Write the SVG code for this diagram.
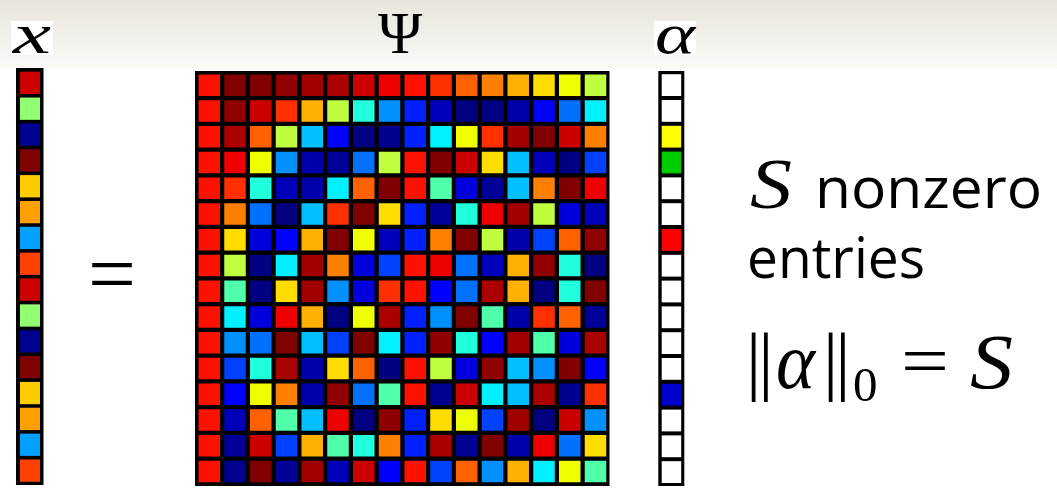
<svg xmlns="http://www.w3.org/2000/svg" width="1057" height="491" viewBox="0 0 1057 491">
<defs>
<linearGradient id="band" x1="0" y1="0" x2="0" y2="1">
<stop offset="0" stop-color="#E9E5DC"/>
<stop offset="1" stop-color="#FBFAF7"/>
</linearGradient>
</defs>
<style>
.m rect{width:21.5px;height:21.5px}
.bg{fill:#000}
.a{fill:#800000}.b{fill:#900000}.c{fill:#A00000}.d{fill:#AA0000}.e{fill:#CC0000}.f{fill:#EE0000}
.g{fill:#FF1100}.h{fill:#FF3000}.i{fill:#FF6000}.j{fill:#FF8000}.k{fill:#FFB000}.l{fill:#FFDD00}
.m2{fill:#F0FF00}.n{fill:#C0FF40}.o{fill:#50FFAA}.p{fill:#20FFDD}.q{fill:#00F0FF}.r{fill:#00C0FF}
.s{fill:#0090FF}.t{fill:#0070FF}.u{fill:#0040FF}.v{fill:#0020FF}.w{fill:#0000FF}.y{fill:#0000DD}
.z{fill:#0000BB}.A{fill:#0000AA}.B{fill:#000099}.C{fill:#000090}.D{fill:#000080}
.serif{font-family:"Liberation Serif","DejaVu Serif",serif;fill:#000}
.it{font-style:italic}
.sans{font-family:"Open Sans","DejaVu Sans",sans-serif;fill:#000}
</style>
<rect x="0" y="0" width="1057" height="491" fill="#FFFFFF"/>
<rect x="0" y="0" width="1057" height="69" fill="url(#band)"/>

<g id="label-x">
<rect x="11" y="21" width="42" height="34" fill="#FFFFFF"/>
<text class="serif it" x="13" y="53" font-size="58" textLength="38" lengthAdjust="spacingAndGlyphs">x</text>
</g>
<g id="label-psi">
<text class="serif" x="378" y="53" font-size="60">Ψ</text>
</g>
<g id="label-alpha">
<rect x="654" y="21" width="42" height="34" fill="#FFFFFF"/>
<text class="serif it" x="655" y="53" font-size="58" textLength="40" lengthAdjust="spacingAndGlyphs">α</text>
</g>

<g id="x-vector">
<rect class="bg" x="16" y="68" width="27.5" height="417"/>
<g>
<rect class="e" x="20" y="71.7" width="20" height="22.3"/>
<rect fill="#90FF70" x="20" y="97.55" width="20" height="22.3"/>
<rect fill="#000090" x="20" y="123.4" width="20" height="22.3"/>
<rect fill="#800000" x="20" y="149.25" width="20" height="22.3"/>
<rect fill="#FFCC00" x="20" y="175.1" width="20" height="22.3"/>
<rect fill="#FFA000" x="20" y="200.95" width="20" height="22.3"/>
<rect fill="#00A0FF" x="20" y="226.8" width="20" height="22.3"/>
<rect fill="#FF4000" x="20" y="252.65" width="20" height="22.3"/>
<rect class="e" x="20" y="278.5" width="20" height="22.3"/>
<rect fill="#90FF70" x="20" y="304.35" width="20" height="22.3"/>
<rect fill="#000090" x="20" y="330.2" width="20" height="22.3"/>
<rect fill="#800000" x="20" y="356.05" width="20" height="22.3"/>
<rect fill="#FFCC00" x="20" y="381.9" width="20" height="22.3"/>
<rect fill="#FFA000" x="20" y="407.75" width="20" height="22.3"/>
<rect fill="#00A0FF" x="20" y="433.6" width="20" height="22.3"/>
<rect fill="#FF4000" x="20" y="459.45" width="20" height="22.3"/>
</g>
</g>

<g id="equals">
<text class="serif" x="88" y="303" font-size="86" textLength="48" lengthAdjust="spacingAndGlyphs">=</text>
</g>

<g id="psi-matrix" class="m">
<rect class="bg" x="195" y="71" width="414.5" height="415" style="width:414.5px;height:415px"/>
<g transform="translate(0,74.5)">
<rect class="g" x="198.5" y="0"/><rect class="a" x="224.25" y="0"/><rect class="a" x="250" y="0"/><rect class="b" x="275.75" y="0"/><rect class="c" x="301.5" y="0"/><rect class="d" x="327.25" y="0"/><rect class="e" x="353" y="0"/><rect class="f" x="378.75" y="0"/><rect class="g" x="404.5" y="0"/><rect class="h" x="430.25" y="0"/><rect class="i" x="456" y="0"/><rect class="j" x="481.75" y="0"/><rect class="k" x="507.5" y="0"/><rect class="l" x="533.25" y="0"/><rect class="m2" x="559" y="0"/><rect class="n" x="584.75" y="0"/>
</g>
<g transform="translate(0,100.25)">
<rect class="g" x="198.5" y="0"/><rect class="b" x="224.25" y="0"/><rect class="e" x="250" y="0"/><rect class="h" x="275.75" y="0"/><rect class="k" x="301.5" y="0"/><rect class="n" x="327.25" y="0"/><rect class="p" x="353" y="0"/><rect class="s" x="378.75" y="0"/><rect class="v" x="404.5" y="0"/><rect class="z" x="430.25" y="0"/><rect class="D" x="456" y="0"/><rect class="D" x="481.75" y="0"/><rect class="A" x="507.5" y="0"/><rect class="w" x="533.25" y="0"/><rect class="t" x="559" y="0"/><rect class="q" x="584.75" y="0"/>
</g>
<g transform="translate(0,126)">
<rect class="g" x="198.5" y="0"/><rect class="d" x="224.25" y="0"/><rect class="i" x="250" y="0"/><rect class="n" x="275.75" y="0"/><rect class="r" x="301.5" y="0"/><rect class="w" x="327.25" y="0"/><rect class="D" x="353" y="0"/><rect class="C" x="378.75" y="0"/><rect class="v" x="404.5" y="0"/><rect class="q" x="430.25" y="0"/><rect class="m2" x="456" y="0"/><rect class="h" x="481.75" y="0"/><rect class="c" x="507.5" y="0"/><rect class="a" x="533.25" y="0"/><rect class="e" x="559" y="0"/><rect class="j" x="584.75" y="0"/>
</g>
<g transform="translate(0,151.75)">
<rect class="g" x="198.5" y="0"/><rect class="f" x="224.25" y="0"/><rect class="m2" x="250" y="0"/><rect class="s" x="275.75" y="0"/><rect class="A" x="301.5" y="0"/><rect class="B" x="327.25" y="0"/><rect class="t" x="353" y="0"/><rect class="n" x="378.75" y="0"/><rect class="g" x="404.5" y="0"/><rect class="a" x="430.25" y="0"/><rect class="e" x="456" y="0"/><rect class="l" x="481.75" y="0"/><rect class="r" x="507.5" y="0"/><rect class="z" x="533.25" y="0"/><rect class="D" x="559" y="0"/><rect class="u" x="584.75" y="0"/>
</g>
<g transform="translate(0,177.5)">
<rect class="g" x="198.5" y="0"/><rect class="h" x="224.25" y="0"/><rect class="p" x="250" y="0"/><rect class="z" x="275.75" y="0"/><rect class="A" x="301.5" y="0"/><rect class="q" x="327.25" y="0"/><rect class="i" x="353" y="0"/><rect class="a" x="378.75" y="0"/><rect class="g" x="404.5" y="0"/><rect class="o" x="430.25" y="0"/><rect class="y" x="456" y="0"/><rect class="B" x="481.75" y="0"/><rect class="r" x="507.5" y="0"/><rect class="j" x="533.25" y="0"/><rect class="a" x="559" y="0"/><rect class="f" x="584.75" y="0"/>
</g>
<g transform="translate(0,203.25)">
<rect class="g" x="198.5" y="0"/><rect class="j" x="224.25" y="0"/><rect class="t" x="250" y="0"/><rect class="D" x="275.75" y="0"/><rect class="r" x="301.5" y="0"/><rect class="h" x="327.25" y="0"/><rect class="a" x="353" y="0"/><rect class="l" x="378.75" y="0"/><rect class="v" x="404.5" y="0"/><rect class="B" x="430.25" y="0"/><rect class="p" x="456" y="0"/><rect class="f" x="481.75" y="0"/><rect class="c" x="507.5" y="0"/><rect class="n" x="533.25" y="0"/><rect class="y" x="559" y="0"/><rect class="z" x="584.75" y="0"/>
</g>
<g transform="translate(0,229)">
<rect class="g" x="198.5" y="0"/><rect class="l" x="224.25" y="0"/><rect class="y" x="250" y="0"/><rect class="w" x="275.75" y="0"/><rect class="k" x="301.5" y="0"/><rect class="a" x="327.25" y="0"/><rect class="m2" x="353" y="0"/><rect class="z" x="378.75" y="0"/><rect class="v" x="404.5" y="0"/><rect class="j" x="430.25" y="0"/><rect class="a" x="456" y="0"/><rect class="n" x="481.75" y="0"/><rect class="A" x="507.5" y="0"/><rect class="u" x="533.25" y="0"/><rect class="i" x="559" y="0"/><rect class="b" x="584.75" y="0"/>
</g>
<g transform="translate(0,254.75)">
<rect class="g" x="198.5" y="0"/><rect class="n" x="224.25" y="0"/><rect class="D" x="250" y="0"/><rect class="q" x="275.75" y="0"/><rect class="c" x="301.5" y="0"/><rect class="j" x="327.25" y="0"/><rect class="y" x="353" y="0"/><rect class="u" x="378.75" y="0"/><rect class="g" x="404.5" y="0"/><rect class="f" x="430.25" y="0"/><rect class="t" x="456" y="0"/><rect class="z" x="481.75" y="0"/><rect class="k" x="507.5" y="0"/><rect class="b" x="533.25" y="0"/><rect class="p" x="559" y="0"/><rect class="D" x="584.75" y="0"/>
</g>
<g transform="translate(0,280.5)">
<rect class="g" x="198.5" y="0"/><rect class="o" x="224.25" y="0"/><rect class="D" x="250" y="0"/><rect class="l" x="275.75" y="0"/><rect class="c" x="301.5" y="0"/><rect class="s" x="327.25" y="0"/><rect class="y" x="353" y="0"/><rect class="h" x="378.75" y="0"/><rect class="g" x="404.5" y="0"/><rect class="w" x="430.25" y="0"/><rect class="t" x="456" y="0"/><rect class="d" x="481.75" y="0"/><rect class="k" x="507.5" y="0"/><rect class="D" x="533.25" y="0"/><rect class="p" x="559" y="0"/><rect class="a" x="584.75" y="0"/>
</g>
<g transform="translate(0,306.25)">
<rect class="g" x="198.5" y="0"/><rect class="q" x="224.25" y="0"/><rect class="y" x="250" y="0"/><rect class="f" x="275.75" y="0"/><rect class="k" x="301.5" y="0"/><rect class="D" x="327.25" y="0"/><rect class="m2" x="353" y="0"/><rect class="d" x="378.75" y="0"/><rect class="v" x="404.5" y="0"/><rect class="s" x="430.25" y="0"/><rect class="a" x="456" y="0"/><rect class="o" x="481.75" y="0"/><rect class="A" x="507.5" y="0"/><rect class="h" x="533.25" y="0"/><rect class="i" x="559" y="0"/><rect class="B" x="584.75" y="0"/>
</g>
<g transform="translate(0,332)">
<rect class="g" x="198.5" y="0"/><rect class="s" x="224.25" y="0"/><rect class="t" x="250" y="0"/><rect class="a" x="275.75" y="0"/><rect class="r" x="301.5" y="0"/><rect class="u" x="327.25" y="0"/><rect class="a" x="353" y="0"/><rect class="q" x="378.75" y="0"/><rect class="v" x="404.5" y="0"/><rect class="b" x="430.25" y="0"/><rect class="p" x="456" y="0"/><rect class="w" x="481.75" y="0"/><rect class="c" x="507.5" y="0"/><rect class="o" x="533.25" y="0"/><rect class="y" x="559" y="0"/><rect class="d" x="584.75" y="0"/>
</g>
<g transform="translate(0,357.75)">
<rect class="g" x="198.5" y="0"/><rect class="u" x="224.25" y="0"/><rect class="p" x="250" y="0"/><rect class="d" x="275.75" y="0"/><rect class="A" x="301.5" y="0"/><rect class="l" x="327.25" y="0"/><rect class="i" x="353" y="0"/><rect class="D" x="378.75" y="0"/><rect class="g" x="404.5" y="0"/><rect class="n" x="430.25" y="0"/><rect class="y" x="456" y="0"/><rect class="b" x="481.75" y="0"/><rect class="r" x="507.5" y="0"/><rect class="s" x="533.25" y="0"/><rect class="a" x="559" y="0"/><rect class="w" x="584.75" y="0"/>
</g>
<g transform="translate(0,383.5)">
<rect class="g" x="198.5" y="0"/><rect class="w" x="224.25" y="0"/><rect class="m2" x="250" y="0"/><rect class="j" x="275.75" y="0"/><rect class="A" x="301.5" y="0"/><rect class="b" x="327.25" y="0"/><rect class="t" x="353" y="0"/><rect class="o" x="378.75" y="0"/><rect class="g" x="404.5" y="0"/><rect class="C" x="430.25" y="0"/><rect class="e" x="456" y="0"/><rect class="q" x="481.75" y="0"/><rect class="r" x="507.5" y="0"/><rect class="d" x="533.25" y="0"/><rect class="C" x="559" y="0"/><rect class="h" x="584.75" y="0"/>
</g>
<g transform="translate(0,409.25)">
<rect class="g" x="198.5" y="0"/><rect class="z" x="224.25" y="0"/><rect class="i" x="250" y="0"/><rect class="o" x="275.75" y="0"/><rect class="r" x="301.5" y="0"/><rect class="f" x="327.25" y="0"/><rect class="D" x="353" y="0"/><rect class="b" x="378.75" y="0"/><rect class="v" x="404.5" y="0"/><rect class="l" x="430.25" y="0"/><rect class="m2" x="456" y="0"/><rect class="u" x="481.75" y="0"/><rect class="c" x="507.5" y="0"/><rect class="D" x="533.25" y="0"/><rect class="e" x="559" y="0"/><rect class="s" x="584.75" y="0"/>
</g>
<g transform="translate(0,435)">
<rect class="g" x="198.5" y="0"/><rect class="B" x="224.25" y="0"/><rect class="e" x="250" y="0"/><rect class="u" x="275.75" y="0"/><rect class="k" x="301.5" y="0"/><rect class="o" x="327.25" y="0"/><rect class="p" x="353" y="0"/><rect class="j" x="378.75" y="0"/><rect class="v" x="404.5" y="0"/><rect class="d" x="430.25" y="0"/><rect class="C" x="456" y="0"/><rect class="a" x="481.75" y="0"/><rect class="A" x="507.5" y="0"/><rect class="f" x="533.25" y="0"/><rect class="t" x="559" y="0"/><rect class="l" x="584.75" y="0"/>
</g>
<g transform="translate(0,460.75)">
<rect class="g" x="198.5" y="0"/><rect class="C" x="224.25" y="0"/><rect class="a" x="250" y="0"/><rect class="B" x="275.75" y="0"/><rect class="c" x="301.5" y="0"/><rect class="z" x="327.25" y="0"/><rect class="e" x="353" y="0"/><rect class="w" x="378.75" y="0"/><rect class="g" x="404.5" y="0"/><rect class="u" x="430.25" y="0"/><rect class="i" x="456" y="0"/><rect class="s" x="481.75" y="0"/><rect class="k" x="507.5" y="0"/><rect class="q" x="533.25" y="0"/><rect class="m2" x="559" y="0"/><rect class="o" x="584.75" y="0"/>
</g>
</g>

<g id="alpha-vector">
<rect class="bg" x="658.3" y="71" width="26" height="415"/>
<rect fill="#FFFFFF" x="661.7" y="74.2" width="19.5" height="21.8"/>
<rect fill="#FFFFFF" x="661.7" y="100" width="19.5" height="21.8"/>
<rect fill="#FFFF00" x="661.7" y="125.8" width="19.5" height="21.8"/>
<rect fill="#00CC00" x="661.7" y="151.6" width="19.5" height="21.8"/>
<rect fill="#FFFFFF" x="661.7" y="177.4" width="19.5" height="21.8"/>
<rect fill="#FFFFFF" x="661.7" y="203.2" width="19.5" height="21.8"/>
<rect fill="#FF0000" x="661.7" y="229" width="19.5" height="21.8"/>
<rect fill="#FFFFFF" x="661.7" y="254.8" width="19.5" height="21.8"/>
<rect fill="#FFFFFF" x="661.7" y="280.6" width="19.5" height="21.8"/>
<rect fill="#FFFFFF" x="661.7" y="306.4" width="19.5" height="21.8"/>
<rect fill="#FFFFFF" x="661.7" y="332.2" width="19.5" height="21.8"/>
<rect fill="#FFFFFF" x="661.7" y="358" width="19.5" height="21.8"/>
<rect fill="#0000CC" x="661.7" y="383.8" width="19.5" height="21.8"/>
<rect fill="#FFFFFF" x="661.7" y="409.6" width="19.5" height="21.8"/>
<rect fill="#FFFFFF" x="661.7" y="435.4" width="19.5" height="21.8"/>
<rect fill="#FFFFFF" x="661.7" y="461.2" width="19.5" height="21.8"/>
</g>

<g id="sparsity-text">
<text class="serif it" x="750" y="208" font-size="72" textLength="42" lengthAdjust="spacingAndGlyphs">S</text>
<text class="sans" x="815" y="208" font-size="57" textLength="227" lengthAdjust="spacingAndGlyphs">nonzero</text>
<text class="sans" x="747" y="278" font-size="57" textLength="178" lengthAdjust="spacingAndGlyphs">entries</text>
</g>

<g id="norm-formula">
<text class="serif" x="746" y="386" font-size="76" letter-spacing="-3">||</text>
<text class="serif it" x="776" y="388" font-size="80" textLength="39" lengthAdjust="spacingAndGlyphs">α</text>
<text class="serif" x="823" y="386" font-size="76" letter-spacing="-3">||</text>
<text class="serif" x="853" y="401" font-size="49">0</text>
<text class="serif" x="901" y="385" font-size="72" textLength="48" lengthAdjust="spacingAndGlyphs">=</text>
<text class="serif it" x="970" y="388" font-size="78" textLength="43" lengthAdjust="spacingAndGlyphs">S</text>
</g>
</svg>
